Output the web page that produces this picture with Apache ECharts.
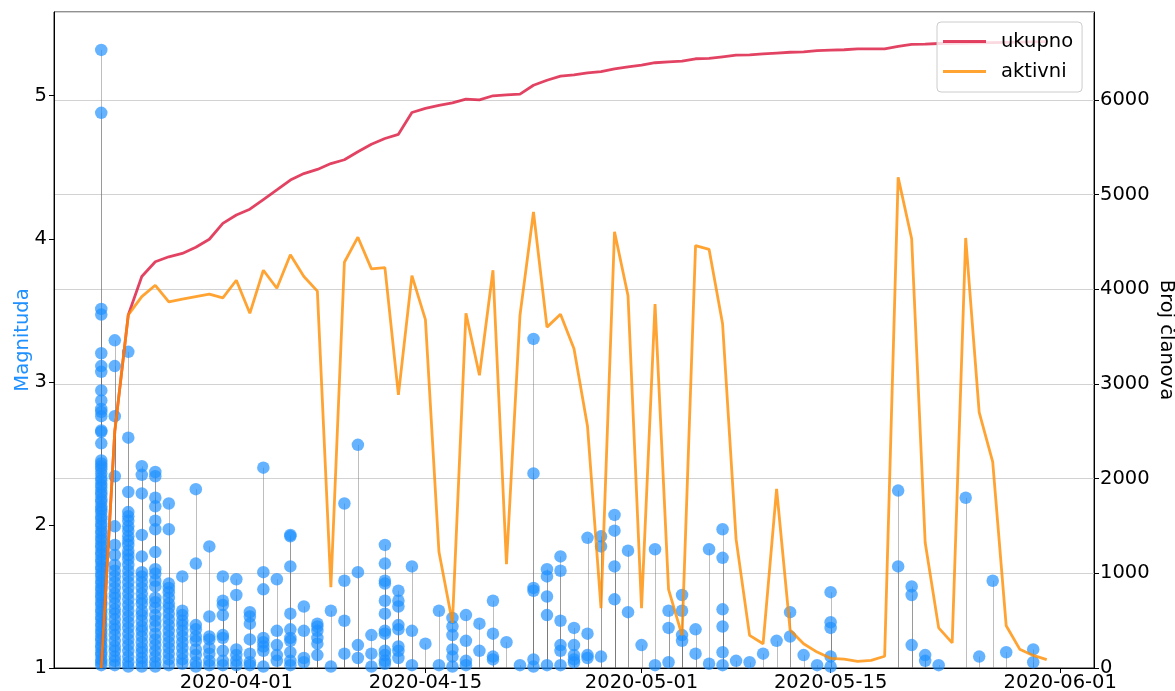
<!DOCTYPE html>
<html>
<head>
<meta charset="utf-8">
<script src="https://cdn.jsdelivr.net/npm/echarts@6/dist/echarts.min.js"></script>
<style>
html,body{margin:0;padding:0;background:#fff;}
#chart{width:1175px;height:691px;}
</style>
</head>
<body>
<div id="chart"></div>
<script>
// ---- DATA ----
const dates = [
 '2020-03-22','2020-03-23','2020-03-24','2020-03-25','2020-03-26','2020-03-27','2020-03-28','2020-03-29','2020-03-30','2020-03-31',
 '2020-04-01','2020-04-02','2020-04-03','2020-04-04','2020-04-05','2020-04-06','2020-04-07','2020-04-08','2020-04-09','2020-04-10',
 '2020-04-11','2020-04-12','2020-04-13','2020-04-14','2020-04-15','2020-04-16','2020-04-17','2020-04-18','2020-04-19','2020-04-20',
 '2020-04-21','2020-04-22','2020-04-23','2020-04-24','2020-04-25','2020-04-26','2020-04-27','2020-04-28','2020-04-29','2020-04-30',
 '2020-05-01','2020-05-02','2020-05-03','2020-05-04','2020-05-05','2020-05-06','2020-05-07','2020-05-08','2020-05-09','2020-05-10',
 '2020-05-11','2020-05-12','2020-05-13','2020-05-14','2020-05-15','2020-05-16','2020-05-17','2020-05-18','2020-05-19','2020-05-20',
 '2020-05-21','2020-05-22','2020-05-23','2020-05-24','2020-05-25','2020-05-26','2020-05-27','2020-05-28','2020-05-29','2020-05-30',
 '2020-05-31'
];

const ukupno = [
 0, 2500, 3730, 4136, 4291, 4344, 4379, 4445, 4529, 4697,
 4786, 4847, 4949, 5051, 5155, 5223, 5267, 5329, 5369, 5453,
 5532, 5594, 5638, 5868, 5912, 5943, 5970, 6010, 6001, 6045,
 6054, 6063, 6156, 6209, 6253, 6266, 6288, 6301, 6330, 6351,
 6369, 6394, 6404, 6411, 6436, 6440, 6457, 6474, 6478, 6487,
 6496, 6505, 6509, 6522, 6527, 6531, 6540, 6540, 6540, 6566,
 6588, 6590, 6597, 6600, 6602, 6605, 6607, 6610, 6612, 6614,
 6616
];

const aktivni = [
 0, 2500, 3730, 3924, 4043, 3867, 3897, 3924, 3950, 3911,
 4096, 3747, 4202, 4012, 4366, 4136, 3981, 853, 4286, 4551,
 4216, 4229, 2886, 4145, 3681, 1228, 477, 3747, 3093, 4202,
 1096, 3725, 4817, 3601, 3738, 3372, 2554, 632, 4609, 3933,
 632, 3844, 831, 345, 4463, 4423, 3637, 1361, 345, 256,
 1891, 402, 256, 168, 102, 93, 71, 80, 124, 5183,
 4534, 1326, 424, 265, 4543, 2700, 2178, 446, 199, 133,
 88
];

// earthquake magnitudes per day (same index as dates)
const magnitudes = [
 [5.32,4.88,3.51,3.47,3.20,3.11,3.07,2.94,2.87,2.81,2.79,2.76,2.66,2.65,2.57,2.45,2.43,2.41,2.39,2.36,2.33,2.31,2.28,2.26,2.23,2.21,2.18,2.16,2.13,2.11,2.09,2.06,2.04,2.01,1.99,1.96,1.94,1.91,1.89,1.86,1.84,1.81,1.79,1.76,1.74,1.71,1.69,1.66,1.64,1.61,1.59,1.56,1.54,1.51,1.49,1.46,1.44,1.41,1.39,1.36,1.34,1.31,1.29,1.26,1.24,1.21,1.19,1.16,1.14,1.11,1.09,1.06,1.04,1.02],
 [3.29,3.11,2.76,2.34,1.99,1.86,1.79,1.72,1.68,1.64,1.60,1.56,1.52,1.49,1.45,1.41,1.38,1.34,1.30,1.27,1.23,1.19,1.15,1.12,1.08,1.05,1.02],
 [3.21,2.61,2.23,2.09,2.06,2.03,1.99,1.96,1.92,1.89,1.86,1.82,1.79,1.76,1.72,1.68,1.64,1.60,1.56,1.52,1.48,1.44,1.40,1.36,1.32,1.28,1.24,1.20,1.16,1.12,1.08,1.04,1.01],
 [2.41,2.35,2.22,1.93,1.78,1.67,1.64,1.60,1.56,1.52,1.48,1.45,1.40,1.37,1.33,1.29,1.26,1.22,1.18,1.14,1.11,1.07,1.04,1.01],
 [2.37,2.34,2.19,2.13,2.03,1.97,1.81,1.69,1.66,1.61,1.57,1.49,1.46,1.42,1.37,1.33,1.29,1.24,1.20,1.16,1.12,1.08,1.04,1.01],
 [2.15,1.97,1.59,1.56,1.53,1.49,1.45,1.42,1.38,1.34,1.30,1.26,1.22,1.18,1.14,1.10,1.06,1.02],
 [1.64,1.40,1.37,1.33,1.30,1.26,1.22,1.18,1.14,1.10,1.06,1.03],
 [2.25,1.73,1.30,1.27,1.22,1.19,1.13,1.09,1.04,1.01],
 [1.85,1.36,1.22,1.20,1.14,1.10,1.05,1.02],
 [1.64,1.47,1.44,1.37,1.23,1.21,1.12,1.05,1.02],
 [1.62,1.51,1.13,1.09,1.05,1.02],
 [1.39,1.36,1.31,1.20,1.10,1.04,1.02],
 [2.40,1.67,1.55,1.21,1.18,1.15,1.12,1.01],
 [1.62,1.26,1.16,1.09,1.05],
 [1.93,1.92,1.71,1.38,1.27,1.21,1.19,1.11,1.05,1.02],
 [1.43,1.26,1.07,1.04],
 [1.31,1.29,1.26,1.21,1.17,1.09],
 [1.40,1.01],
 [2.15,1.61,1.33,1.10],
 [2.56,1.67,1.16,1.07],
 [1.23,1.10,1.01],
 [1.86,1.73,1.61,1.59,1.47,1.38,1.26,1.24,1.12,1.09,1.05,1.03],
 [1.54,1.47,1.43,1.30,1.27,1.15,1.12,1.07],
 [1.71,1.26,1.02],
 [1.17],
 [1.40,1.02],
 [1.35,1.29,1.23,1.13,1.08,1.01],
 [1.37,1.19,1.05,1.02],
 [1.31,1.12],
 [1.47,1.24,1.08,1.06],
 [1.18],
 [1.02],
 [3.30,2.36,1.56,1.54,1.06,1.01],
 [1.69,1.64,1.50,1.37,1.02],
 [1.78,1.68,1.33,1.16,1.12,1.02],
 [1.28,1.16,1.09,1.06,1.04],
 [1.91,1.24,1.09,1.07],
 [1.92,1.85,1.08],
 [2.07,1.96,1.71,1.48],
 [1.82,1.39],
 [1.16],
 [1.83,1.02],
 [1.40,1.28,1.04],
 [1.51,1.40,1.23,1.19],
 [1.27,1.10],
 [1.83,1.03],
 [1.97,1.77,1.41,1.29,1.11,1.02],
 [1.05],
 [1.04],
 [1.10],
 [1.19],
 [1.39,1.22],
 [1.09],
 [1.02],
 [1.53,1.32,1.28,1.08,1.01],
 [],
 [],
 [],
 [],
 [2.24,1.71],
 [1.57,1.51,1.16],
 [1.09,1.05],
 [1.02],
 [],
 [2.19],
 [1.08],
 [1.61],
 [1.11],
 [],
 [1.13,1.04],
 []
];

const xTickLabels = ['2020-04-01','2020-04-15','2020-05-01','2020-05-15','2020-06-01'];

// ---- BUILD ----
const DAY = 86400000;
function ts(s){ const p = s.split('-').map(Number); return Date.UTC(p[0], p[1]-1, p[2]); }
function fmt(v){
  const d = new Date(v);
  const mm = String(d.getUTCMonth()+1).padStart(2,'0');
  const dd = String(d.getUTCDate()).padStart(2,'0');
  return d.getUTCFullYear() + '-' + mm + '-' + dd;
}
const quakeData = [];
magnitudes.forEach((list, i) => list.forEach(m => quakeData.push([ts(dates[i]), m])));
const ukupnoData = dates.map((d, i) => [ts(d), ukupno[i]]);
const aktivniData = dates.map((d, i) => [ts(d), aktivni[i]]);
const tickTs = xTickLabels.map(ts);
const xMin = ts(dates[0]) - 3.5 * DAY;
const xMax = ts(dates[dates.length-1]) + 3.5 * DAY;

const FONT = 'DejaVu Sans';
const FS = 19.5;

const chart = echarts.init(document.getElementById('chart'), null, {renderer: 'canvas'});
chart.setOption({
  animation: false,
  backgroundColor: '#fff',
  grid: {left: 54, right: 81, top: 12, bottom: 23, containLabel: false, outerBoundsMode: 'none',
    show: true, borderColor: '#222', borderWidth: 1, backgroundColor: 'transparent'},
  legend: {
    data: ['ukupno', 'aktivni'],
    orient: 'vertical',
    left: 937, top: 22,
    padding: [9, 9, 10, 6],
    icon: 'rect',
    itemWidth: 43, itemHeight: 3, itemGap: 9,
    backgroundColor: 'rgba(255,255,255,0.8)',
    borderColor: '#cccccc', borderWidth: 1, borderRadius: 4,
    textStyle: {fontFamily: FONT, fontSize: FS, color: '#000', padding: [0, 0, 0, 10], lineHeight: 21}
  },
  xAxis: {
    type: 'value', min: xMin, max: xMax,
    axisLine: {show: true, onZero: false, lineStyle: {color: '#000', width: 1}},
    axisTick: {show: true, length: 5, customValues: tickTs, lineStyle: {color: '#000'}},
    axisLabel: {customValues: tickTs, formatter: v => fmt(v), fontFamily: FONT, fontSize: FS, color: '#000', margin: 5, hideOverlap: false},
    splitLine: {show: false}
  },
  yAxis: [
    {
      type: 'value', min: 1, max: 5.585, interval: 1, position: 'left',
      name: 'Magnituda', nameLocation: 'middle', nameGap: 21, nameRotate: 90, nameMoveOverlap: false,
      nameTextStyle: {color: '#1E90FF', fontFamily: FONT, fontSize: FS},
      axisLine: {show: true, lineStyle: {color: '#000'}},
      axisTick: {show: true, length: 5, lineStyle: {color: '#000'}},
      axisLabel: {showMaxLabel: false, margin: 7, fontFamily: FONT, fontSize: FS, color: '#000',
        formatter: v => (Math.abs(v - Math.round(v)) < 1e-6 ? String(Math.round(v)) : '')},
      splitLine: {show: false}
    },
    {
      type: 'value', min: 0, max: 6930, interval: 1000, position: 'right',
      name: 'Broj članova', nameLocation: 'middle', nameGap: 62, nameRotate: -90, nameMoveOverlap: false,
      nameTextStyle: {color: '#000', fontFamily: FONT, fontSize: FS},
      axisLine: {show: true, lineStyle: {color: '#000'}},
      axisTick: {show: true, length: 5, lineStyle: {color: '#000'}},
      axisLabel: {showMaxLabel: false, margin: 6, fontFamily: FONT, fontSize: FS, color: '#000',
        formatter: v => (v % 1000 === 0 ? String(v) : '')},
      splitLine: {show: true, lineStyle: {color: '#d2d2d2', width: 1}}
    }
  ],
  series: [
    {
      name: 'stems', type: 'custom', yAxisIndex: 0, z: 1,
      data: quakeData,
      encode: {x: 0, y: 1},
      renderItem: function (params, api) {
        const top = api.coord([api.value(0), api.value(1)]);
        const base = api.coord([api.value(0), 1]);
        const x = Math.round(top[0]) + 0.5;
        return {type: 'line', shape: {x1: x, y1: base[1], x2: x, y2: top[1]},
          style: {stroke: 'rgba(110,110,110,0.45)', lineWidth: 1}};
      }
    },
    {
      name: 'potresi', type: 'scatter', yAxisIndex: 0, z: 2,
      data: quakeData, symbolSize: 12.5,
      itemStyle: {color: 'rgba(30,144,255,0.85)'}
    },
    {
      name: 'ukupno', type: 'line', yAxisIndex: 1, z: 3,
      data: ukupnoData, symbol: 'none', showSymbol: false,
      lineStyle: {color: 'rgba(220,20,60,0.8)', width: 2.8},
      itemStyle: {color: 'rgba(220,20,60,0.8)'}
    },
    {
      name: 'aktivni', type: 'line', yAxisIndex: 1, z: 4,
      data: aktivniData, symbol: 'none', showSymbol: false,
      lineStyle: {color: 'rgba(255,140,0,0.8)', width: 2.8},
      itemStyle: {color: 'rgba(255,140,0,0.8)'}
    }
  ]
});
</script>
</body>
</html>
